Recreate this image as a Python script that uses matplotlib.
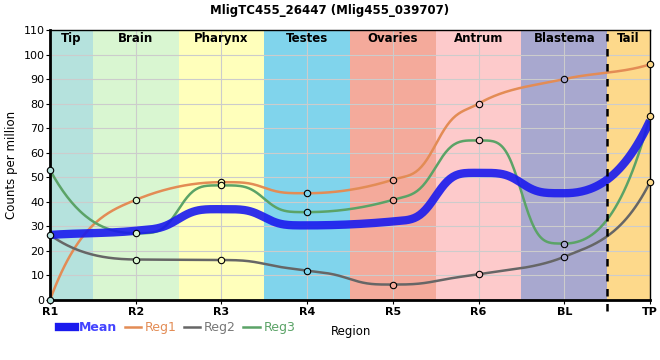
import numpy as np
import matplotlib
matplotlib.use("Agg")
import matplotlib.pyplot as plt
from matplotlib.lines import Line2D

categories = ["R1", "R2", "R3", "R4", "R5", "R6", "BL", "TP"]
reg1 = [0.0, 40.8, 48.0, 43.5, 49.0, 80.0, 90.0, 96.0]
reg2 = [26.5, 16.5, 16.3, 12.0, 6.3, 10.5, 17.6, 48.0]
reg3 = [53.0, 27.2, 46.7, 35.8, 40.8, 65.0, 23.0, 75.0]
mean = [26.5, 28.2, 37.0, 30.4, 32.0, 51.8, 43.5, 73.0]

band_names = ["Tip", "Brain", "Pharynx", "Testes", "Ovaries", "Antrum", "Blastema", "Tail"]
band_edges = [0, 0.5, 1.5, 2.5, 3.5, 4.5, 5.5, 6.5, 7]
band_colors = ["#b5e2dd", "#d9f6d1", "#ffffbb", "#80d4ec", "#f4aa9b", "#fdcacb", "#a8a8cf", "#fdd98b"]


def smooth(xs, ys, n=60, p=1.8):
    xs = np.asarray(xs, float); ys = np.asarray(ys, float)
    h = np.diff(xs); s = np.diff(ys) / h
    m = np.zeros_like(ys)
    for i in range(1, len(ys) - 1):
        pp = (s[i - 1] * h[i] + s[i] * h[i - 1]) / (h[i - 1] + h[i])
        m[i] = (np.sign(s[i - 1]) + np.sign(s[i])) * min(abs(s[i - 1]), abs(s[i]), 0.5 * abs(pp))
    m[0] = 2.5 * s[0] - 0.5 * m[1]
    m[-1] = 2.5 * s[-1] - 0.5 * m[-2]
    X, Y = [], []
    last = len(xs) - 2
    for i in range(len(xs) - 1):
        t = np.linspace(0, 1, n, endpoint=(i == last))
        d = ys[i + 1] - ys[i]
        a = 0.0
        if 0 < i < last and abs(d) > 1e-9:
            ratio = max(abs(m[i]), abs(m[i + 1])) * h[i] / abs(d)
            a = float(np.clip(1 - 0.5 * ratio, 0, 1))
        w = t + a * (t**p / (t**p + (1 - t)**p) - t)
        h01 = -2 * w**3 + 3 * w**2
        h10 = t**3 - 2 * t**2 + t
        h11 = t**3 - t**2
        X.append(xs[i] + t * h[i])
        Y.append(ys[i] + d * h01 + h10 * h[i] * m[i] + h11 * h[i] * m[i + 1])
    return np.concatenate(X), np.concatenate(Y)


fig = plt.figure(figsize=(6.6, 3.6), dpi=100)
ax = fig.add_axes([50 / 660, 60 / 360, 600 / 660, 270 / 360])

for i, name in enumerate(band_names):
    ax.axvspan(band_edges[i], band_edges[i + 1], color=band_colors[i], zorder=0, lw=0)
    ax.text((band_edges[i] + band_edges[i + 1]) / 2, 106.5, name, ha="center", va="center",
            fontsize=8.5, fontweight="bold", zorder=5)

ax.set_xlim(0, 7)
ax.set_ylim(0, 110)
ax.set_yticks(range(0, 111, 10))
x = np.arange(len(categories))
ax.set_xticks(x)
ax.set_xticklabels(categories, fontweight="bold", fontsize=8)
ax.tick_params(axis="y", labelsize=8, length=3, pad=1)
ax.tick_params(axis="x", length=3, pad=2)
ax.grid(True, color="#cccccc", lw=0.8, zorder=1)
ax.set_axisbelow(False)

for sp in ["left", "bottom"]:
    ax.spines[sp].set_linewidth(2)
for sp in ["top", "right"]:
    ax.spines[sp].set_linewidth(1)
for sp in ax.spines.values():
    sp.set_zorder(6)

ax.plot([6.5, 6.5], [-0.04, 1], transform=ax.get_xaxis_transform(), color="black", lw=1.8,
        ls=(0, (3, 3)), clip_on=False, zorder=6)

series = [("Reg1", reg1, "#e38c55", 1.8), ("Reg2", reg2, "#666666", 1.8), ("Reg3", reg3, "#5ba367", 1.8)]
for name, vals, col, lw in series:
    sx, sy = smooth(x, vals)
    ax.plot(sx, sy, color=col, lw=lw, zorder=3, solid_capstyle="round")

mx, my = smooth(x, mean)
ax.plot(mx, my, color="#1a1aee", lw=6, alpha=0.9, zorder=4, solid_capstyle="butt")

def bg_color(xv):
    for i in range(len(band_names)):
        if band_edges[i] <= xv <= band_edges[i + 1]:
            return band_colors[i]
    return "white"

for name, vals, col, lw in series:
    for xi, v in zip(x, vals):
        ax.plot([xi], [v], marker="o", ms=4.6, mfc=bg_color(xi), mec="black", mew=0.8,
                zorder=7, clip_on=False)

ax.set_ylabel("Counts per million", fontsize=8.5, labelpad=4)
fig.text(0.5, 0.972, "MligTC455_26447 (Mlig455_039707)", ha="center", va="center",
         fontsize=8.5, fontweight="bold")

handles = [Line2D([], [], color="#1a1aee", lw=6),
           Line2D([], [], color="#e38c55", lw=1.8),
           Line2D([], [], color="#666666", lw=1.8),
           Line2D([], [], color="#5ba367", lw=1.8)]
labels = ["Mean", "Reg1", "Reg2", "Reg3"]
leg = fig.legend(handles, labels, loc="center left", bbox_to_anchor=(0.072, 0.09), ncol=4,
                 frameon=False, fontsize=9, handlelength=1.3, handletextpad=0.3, columnspacing=0.6)
for t, c in zip(leg.get_texts(), ["#4444ff", "#e38c55", "#777777", "#5ba367"]):
    t.set_color(c)
    if c == "#4444ff":
        t.set_fontweight("bold")
fig.text(0.502, 0.08, "Region", ha="left", va="center", fontsize=8.5)

fig.savefig("out.png", dpi=100)
